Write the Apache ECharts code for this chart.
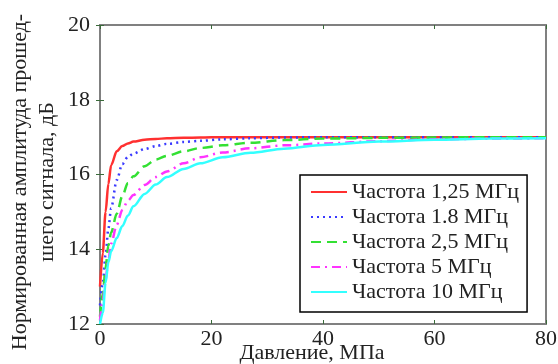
<!DOCTYPE html>
<html>
<head>
<meta charset="utf-8">
<script src="https://cdn.jsdelivr.net/npm/echarts@6/dist/echarts.min.js"></script>
<style>
html,body{margin:0;padding:0;background:#fff;}
#chart{width:558px;height:364px;}
</style>
</head>
<body>
<div id="chart"></div>
<script>
// Pressure grid, MPa
const pressure = [0, 0.5, 1, 1.5, 2, 3, 4, 5, 6, 8, 10, 12, 15, 18, 22, 27, 33, 40, 50, 60, 70, 80];
// Normalised amplitude, dB
const amp125 = [13.0, 13.9, 15.0, 15.75, 16.25, 16.62, 16.76, 16.83, 16.88, 16.93, 16.95, 16.97, 16.98, 16.99, 17.0, 17.0, 17.0, 17.0, 17.0, 17.0, 17.0, 17.0];
const amp18  = [12.5, 13.1, 13.85, 14.55, 15.1, 15.85, 16.28, 16.47, 16.56, 16.68, 16.76, 16.82, 16.87, 16.9, 16.94, 16.97, 16.99, 17.0, 17.0, 17.0, 17.0, 17.0];
const amp25  = [12.2, 12.8, 13.5, 14.1, 14.45, 14.95, 15.42, 15.77, 15.95, 16.22, 16.4, 16.5, 16.62, 16.71, 16.78, 16.85, 16.92, 16.96, 16.98, 16.99, 17.0, 17.0];
const amp5   = [12.1, 12.6, 13.2, 13.7, 14.15, 14.65, 15.05, 15.3, 15.45, 15.72, 15.93, 16.08, 16.3, 16.46, 16.59, 16.7, 16.78, 16.83, 16.89, 16.94, 16.96, 16.97];
const amp10  = [12.0, 12.3, 13.1, 13.65, 13.95, 14.3, 14.62, 14.9, 15.15, 15.48, 15.73, 15.93, 16.15, 16.3, 16.46, 16.58, 16.69, 16.79, 16.88, 16.93, 16.96, 16.97];
const seriesNames = ['Частота 1,25 МГц', 'Частота 1.8 МГц', 'Частота 2,5 МГц', 'Частота 5 МГц', 'Частота 10 МГц'];
const xTicks = [0, 20, 40, 60, 80];
const yTicks = [12, 14, 16, 18, 20];
const yTitle1 = 'Нормированная амплитуда прошед-';
const yTitle2 = 'шего сигнала, дБ';
const xTitle = 'Давление, МПа';

const font = 'Liberation Serif, Times New Roman, serif';
const allAmps = [amp125, amp18, amp25, amp5, amp10];
const colors = ['#ff3030', '#3a3aff', '#33e033', '#ff33ff', '#33ffff'];
const types = ['solid', [2, 4], [10, 6], [9, 5, 2, 5], 'solid'];

const chart = echarts.init(document.getElementById('chart'));
const tickStyle = {show: true, inside: true, length: 4, lineStyle: {color: '#3a6a3a', width: 1}};
chart.setOption({
  animation: false,
  backgroundColor: '#fff',
  grid: {left: 100, top: 25, width: 446, height: 299, containLabel: false, outerBoundsMode: 'none',
         show: true, borderColor: '#808080', borderWidth: 2, backgroundColor: '#fff'},
  legend: {
    orient: 'vertical', left: 300, top: 175,
    padding: [6, 8, 9, 10], itemGap: 3, itemWidth: 36, itemHeight: 14,
    backgroundColor: '#fff', borderColor: '#000', borderWidth: 1.5,
    itemStyle: {opacity: 0},
    textStyle: {fontFamily: font, fontSize: 22, color: '#222'},
    data: seriesNames
  },
  xAxis: [{
    type: 'value', min: xTicks[0], max: xTicks[xTicks.length - 1], interval: 20,
    name: xTitle, nameLocation: 'middle', nameGap: 18, nameMoveOverlap: false,
    nameTextStyle: {fontFamily: font, fontSize: 22, color: '#222', padding: [0, 22, 0, 0]},
    axisLine: {show: false}, axisTick: tickStyle, splitLine: {show: false},
    axisLabel: {fontFamily: font, fontSize: 22, color: '#222', margin: 4}
  }, {
    type: 'value', position: 'top', min: 0, max: 80, interval: 20,
    axisLine: {show: false}, axisTick: tickStyle, splitLine: {show: false}, axisLabel: {show: false}
  }],
  yAxis: [{
    type: 'value', min: yTicks[0], max: yTicks[yTicks.length - 1], interval: 2,
    axisLine: {show: false}, axisTick: tickStyle, splitLine: {show: false},
    axisLabel: {fontFamily: font, fontSize: 22, color: '#222', margin: 10}
  }, {
    type: 'value', position: 'right', min: 12, max: 20, interval: 2,
    axisLine: {show: false}, axisTick: tickStyle, splitLine: {show: false}, axisLabel: {show: false}
  }],
  graphic: [
    {type: 'text', left: 9, top: 'middle', rotation: Math.PI / 2,
     style: {text: yTitle1, fontFamily: font, fontSize: 22, fill: '#222'}},
    {type: 'text', left: 36, top: 'middle', rotation: Math.PI / 2,
     style: {text: yTitle2, fontFamily: font, fontSize: 22, fill: '#222'}}
  ],
  series: seriesNames.map((n, i) => ({
    name: n, type: 'line', showSymbol: false, symbol: 'none',
    smooth: 0.3, smoothMonotone: 'x',
    data: pressure.map((p, j) => [p, allAmps[i][j]]),
    lineStyle: {color: colors[i], width: 2.5, type: types[i]},
    itemStyle: {color: colors[i]},
    z: 2
  }))
});
</script>
</body>
</html>
